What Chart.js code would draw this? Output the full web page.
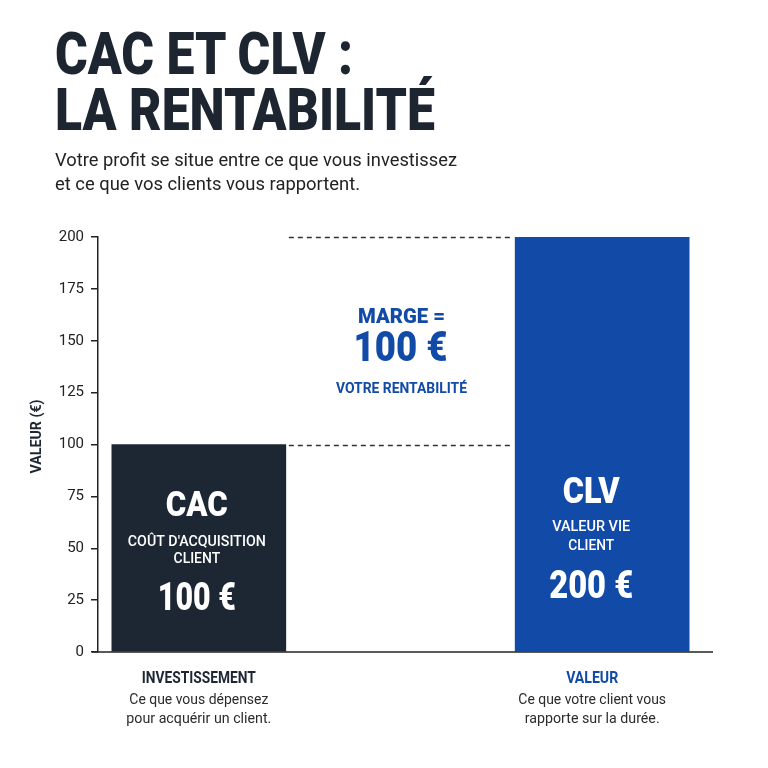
<!DOCTYPE html>
<html lang="fr"><head><meta charset="utf-8">
<title>CAC et CLV : la rentabilité</title>
<script src="https://cdn.jsdelivr.net/npm/chart.js@4.4.1/dist/chart.umd.min.js"></script>
<style>
html,body{margin:0;padding:0;background:#fff;}
#wrap{position:relative;width:768px;height:768px;overflow:hidden;background:#fff}
#c{position:absolute;left:0;top:0}
.fit{position:absolute;left:55px;white-space:nowrap;transform-origin:0 0;font-family:Roboto,'Liberation Sans',sans-serif}
.title{font-weight:900;font-size:59px;line-height:59px;color:#1d2530}
.sub{font-weight:400;font-size:18.5px;line-height:18.5px;color:#222}
</style></head>
<body><div id="wrap">
<canvas id="c" width="768" height="768"></canvas>
<div class="fit title" style="top:24px" data-w="298">CAC ET CLV :</div>
<div class="fit title" style="top:80px" data-w="380">LA RENTABILITÉ</div>
<div class="fit sub" style="top:151px" data-w="402">Votre profit se situe entre ce que vous investissez</div>
<div class="fit sub" style="top:174.5px" data-w="305">et ce que vos clients vous rapportent.</div>
</div>
<script>
// ---- data ----
const categories = ['CAC', 'MARGE', 'CLV'];
const values = [100, null, 200];
const yTicks = [0, 25, 50, 75, 100, 125, 150, 175, 200];
const yAxisTitle = 'VALEUR (€)';
const barNames = ['CAC', '', 'CLV'];
const barDescriptions = [["COÛT D'ACQUISITION", 'CLIENT'], [], ['VALEUR VIE', 'CLIENT']];
const footerTitles = ['INVESTISSEMENT', '', 'VALEUR'];
const footerLines = [['Ce que vous dépensez', 'pour acquérir un client.'], [], ['Ce que votre client vous', 'rapporte sur la durée.']];
const marginLabel = 'MARGE =';
const marginCaption = 'VOTRE RENTABILITÉ';
const euro = v => v + ' €';

// ---- style ----
const DARK = '#1d2733';
const BLUE = '#114aa7';
const BAR_COLORS = [DARK, 'rgba(0,0,0,0)', BLUE];
const FONT = 'Roboto, "Liberation Sans", sans-serif';

// fit html title widths
document.querySelectorAll('.fit').forEach(el => {
  const w = el.getBoundingClientRect().width;
  el.style.transform = 'scaleX(' + (parseFloat(el.dataset.w) / w) + ')';
});

function capText(ctx, s, cx, capY, size, weight, color, width) {
  ctx.save();
  ctx.font = weight + ' ' + size + 'px ' + FONT;
  ctx.fillStyle = color;
  ctx.textAlign = 'center';
  ctx.textBaseline = 'alphabetic';
  const m = ctx.measureText(s).width;
  const sx = width ? width / m : 1;
  ctx.translate(cx, capY + 0.355 * size);
  ctx.scale(sx, 1);
  ctx.fillText(s, 0, 0);
  ctx.restore();
}
function baseText(ctx, s, cx, baseY, size, weight, color, width) {
  capText(ctx, s, cx, baseY - 0.355 * size, size, weight, color, width);
}

// per-column text layout (pixel offsets from the bar base)
const inBar = [
  {dx: -2, name: [-148.5, 35, 62], desc: [[-111.5, 138], [-94, 46.6]], descSize: 14.5, val: [-56, 39, 78]},
  null,
  {dx: -11, name: [-162, 36, 57], desc: [[-126.5, 78], [-107, 46]], descSize: 14.5, val: [-67, 38, 84]}
];
const footer = [
  {dx: 0, title: 114, lines: [139, 145], color: DARK},
  null,
  {dx: -10, title: 52, lines: [147.7, 135], color: BLUE}
];

const annot = {
  id: 'annot',
  afterDraw(chart) {
    const {ctx, scales: {x, y}, chartArea} = chart;
    const bars = chart.getDatasetMeta(0).data;
    const base = y.getPixelForValue(0);
    ctx.save();
    // x axis line
    ctx.strokeStyle = '#222';
    ctx.lineWidth = 1.5;
    ctx.beginPath();
    ctx.moveTo(chartArea.left - 6, base);
    ctx.lineTo(713, base);
    ctx.stroke();
    // dashed guides between bars
    const a = bars[0], b = bars[2];
    const x0 = a.x + a.width / 2 + 3, x1 = b.x - b.width / 2 - 2;
    ctx.setLineDash([5, 4]);
    ctx.strokeStyle = '#333';
    ctx.lineWidth = 1.3;
    [values[0], values[2]].forEach(v => {
      const py = Math.round(y.getPixelForValue(v)) + 0.5;
      ctx.beginPath(); ctx.moveTo(x0, py); ctx.lineTo(x1, py); ctx.stroke();
    });
    ctx.setLineDash([]);
    ctx.restore();

    // y axis title
    ctx.save();
    ctx.translate(35, (chartArea.top + chartArea.bottom) / 2 - 8);
    ctx.rotate(-Math.PI / 2);
    capText(ctx, yAxisTitle, 0, 0, 15.5, 700, DARK, 74);
    ctx.restore();

    // margin annotation
    const mx = x.getPixelForValue(1);
    const my = y.getPixelForValue((values[0] + values[2]) / 2);
    capText(ctx, marginLabel, mx + 1, my - 24.75, 21, 900, BLUE, 87);
    capText(ctx, euro(values[2] - values[0]), mx, my + 5.25, 43, 900, BLUE, 94);
    capText(ctx, marginCaption, mx + 1, my + 47.25, 14.5, 700, BLUE, 131);

    // texts inside bars and footers
    bars.forEach((bar, i) => {
      const L = inBar[i];
      if (L && values[i] != null) {
        const cx = bar.x + L.dx;
        capText(ctx, barNames[i], cx, base + L.name[0], L.name[1], 900, '#fff', L.name[2]);
        barDescriptions[i].forEach((t, k) => {
          capText(ctx, t, cx, base + L.desc[k][0], L.descSize, 500, '#fff', L.desc[k][1]);
        });
        capText(ctx, euro(values[i]), cx, base + L.val[0], L.val[1], 900, '#fff', L.val[2]);
      }
      const F = footer[i];
      if (F) {
        const cx = bar.x + F.dx;
        capText(ctx, footerTitles[i], cx, base + 25.5, 16, 700, F.color, F.title);
        footerLines[i].forEach((t, k) => {
          baseText(ctx, t, cx, base + 52 + k * 18.7, 14.5, 400, '#2b2b2b', F.lines[k]);
        });
      }
    });
  }
};

new Chart(document.getElementById('c'), {
  type: 'bar',
  data: {
    labels: categories,
    datasets: [{
      data: values,
      backgroundColor: BAR_COLORS,
      borderWidth: 0,
      barThickness: 174
    }]
  },
  options: {
    responsive: false,
    animation: false,
    devicePixelRatio: 1,
    layout: {padding: {top: 237, left: 0, right: 65, bottom: 116}},
    plugins: {legend: {display: false}, tooltip: {enabled: false}},
    scales: {
      x: {display: false},
      y: {
        min: 0, max: 200,
        afterBuildTicks: s => { s.ticks = yTicks.map(v => ({value: v})); },
        afterFit: s => { s.width = 98; },
        ticks: {color: '#222', font: {family: FONT, size: 15}, padding: 7},
        grid: {drawOnChartArea: false, drawTicks: true, tickLength: 7, color: '#222', lineWidth: 1.5},
        border: {display: true, color: '#222', width: 1.5}
      }
    }
  },
  plugins: [annot]
});
</script>
</body></html>
